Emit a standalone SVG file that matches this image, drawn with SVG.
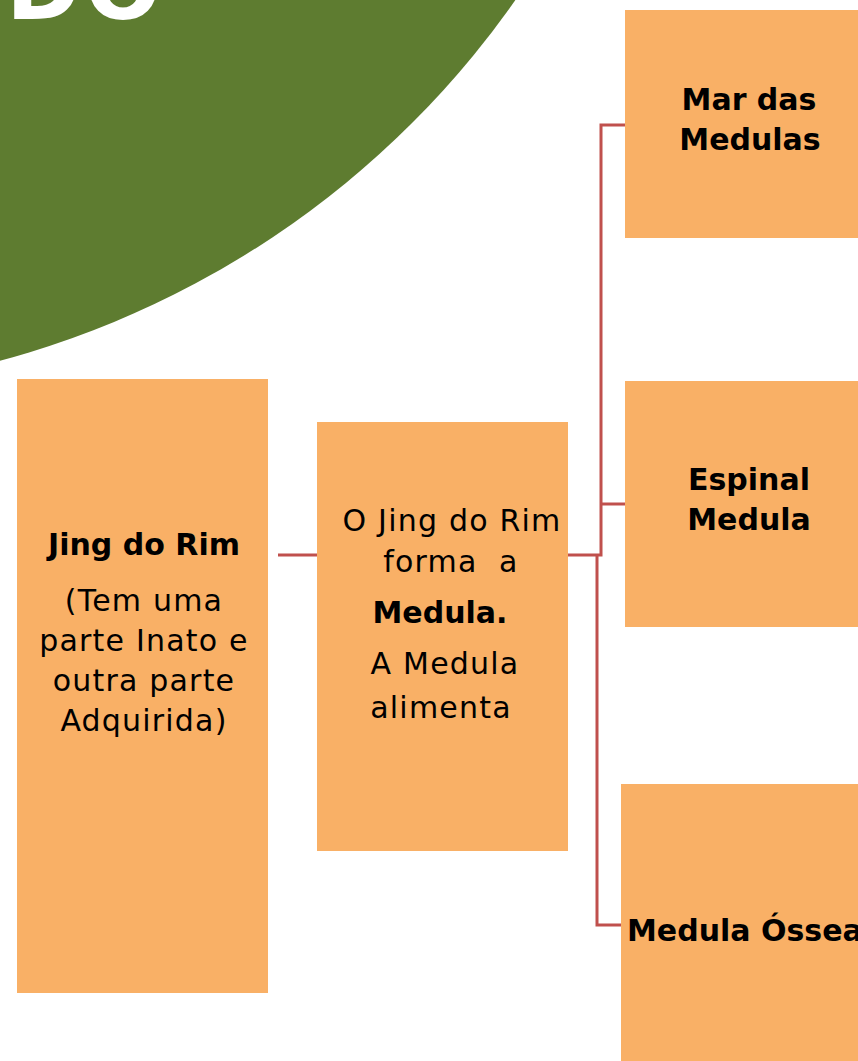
<svg xmlns="http://www.w3.org/2000/svg" width="858" height="1061" viewBox="0 0 858 1061">
<style>
.box{fill:#F9B066}
.conn{fill:none;stroke:#C0504D;stroke-width:3}
text{font-family:"DejaVu Sans","Liberation Sans",sans-serif;font-size:30px;fill:#000}
.r{letter-spacing:1.2px}
.b{font-weight:bold}
.m{text-anchor:middle}
</style>
<rect width="858" height="1061" fill="#FFFFFF"/>
<g id="background">
<circle cx="-238" cy="-528" r="920" fill="#5E7C30"/>
<text x="6" y="19" style="font-size:90px;font-weight:bold;fill:#FFFFFF;letter-spacing:4px;font-family:'DejaVu Sans',sans-serif">DO</text>
</g>
<g id="connectors">
<path class="conn" d="M278,555 H317"/>
<path class="conn" d="M568,555 H601 V125 H625"/>
<path class="conn" d="M601,504 H625"/>
<path class="conn" d="M597,555 V925 H621"/>
</g>
<g id="node-jing">
<rect class="box" x="17" y="379" width="251" height="614"/>
<text class="b m" x="144" y="555">Jing do Rim</text>
<text class="r m" x="144" y="611">(Tem uma</text>
<text class="r m" x="144" y="651">parte Inato e</text>
<text class="r m" x="144" y="691">outra parte</text>
<text class="r m" x="144" y="731">Adquirida)</text>
</g>
<g id="node-forma">
<rect class="box" x="317" y="422" width="251" height="429"/>
<text class="r m" x="452" y="531">O Jing do Rim</text>
<text class="r m" x="451" y="572" xml:space="preserve">forma  a</text>
<text class="b m" x="440" y="623">Medula.</text>
<text class="r m" x="445" y="674">A Medula</text>
<text class="r m" x="441" y="718">alimenta</text>
</g>
<g id="node-mar">
<rect class="box" x="625" y="10" width="233" height="228"/>
<text class="b m" x="749" y="110">Mar das</text>
<text class="b m" x="750" y="150">Medulas</text>
</g>
<g id="node-espinal">
<rect class="box" x="625" y="381" width="233" height="246"/>
<text class="b m" x="749" y="490">Espinal</text>
<text class="b m" x="749" y="530">Medula</text>
</g>
<g id="node-ossea">
<rect class="box" x="621" y="784" width="237" height="277"/>
<text class="b" x="627" y="941">Medula Óssea</text>
</g>
</svg>
